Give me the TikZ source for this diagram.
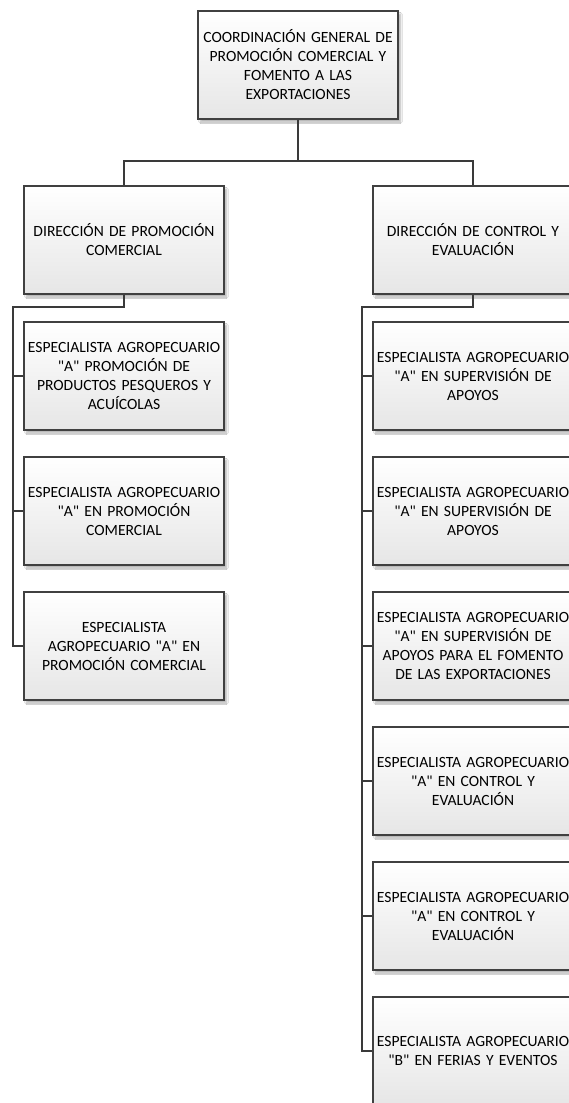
\documentclass[tikz,border=0pt]{standalone}
\usepackage{fontspec}
% Carlito without the TeX input mapping, so " stays a straight quote
\newfontfamily\calfont{Carlito}
\usetikzlibrary{shadows.blur}
\definecolor{edgegray}{RGB}{64,64,64}
\definecolor{linkgray}{RGB}{58,58,58}
\definecolor{fillbottom}{RGB}{230,230,230}
\tikzset{
  orgbox/.style={draw=edgegray, line width=1.5pt,
    top color=white, bottom color=fillbottom,
    minimum width=200pt, minimum height=108pt,
    text width=196pt, align=center, inner sep=2pt,
    font=\calfont\fontsize{15.6}{19}\selectfont,
    blur shadow={shadow xshift=2.5pt, shadow yshift=-3pt, shadow opacity=30, shadow blur steps=6}},
  conn/.style={draw=linkgray, line width=2.8pt}
}
\begin{document}
\begin{tikzpicture}[x=1pt, y=-1pt]
\useasboundingbox (0,0) rectangle (569,1103);
\clip (0,0) rectangle (569,1103);
\fill[white] (0,0) rectangle (569,1103);

% head of the unit
\node[orgbox] (top) at (298,65) {COORDINACIÓN GENERAL DE\\PROMOCIÓN COMERCIAL Y\\FOMENTO A LAS\\EXPORTACIONES};

% directorates
\node[orgbox] (ldir) at (124,240) {DIRECCIÓN DE PROMOCIÓN\\COMERCIAL};
\node[orgbox] (rdir) at (473,240) {DIRECCIÓN DE CONTROL Y\\EVALUACIÓN};

% specialists under Promoción Comercial
\node[orgbox] (l1) at (124,376) {ESPECIALISTA AGROPECUARIO\\"A" PROMOCIÓN DE\\PRODUCTOS PESQUEROS Y\\ACUÍCOLAS};
\node[orgbox] (l2) at (124,511) {ESPECIALISTA AGROPECUARIO\\"A" EN PROMOCIÓN\\COMERCIAL};
\node[orgbox] (l3) at (124,646) {ESPECIALISTA\\AGROPECUARIO "A" EN\\PROMOCIÓN COMERCIAL};

% specialists under Control y Evaluación
\node[orgbox] (r1) at (473,376) {ESPECIALISTA AGROPECUARIO\\"A" EN SUPERVISIÓN DE\\APOYOS};
\node[orgbox] (r2) at (473,511) {ESPECIALISTA AGROPECUARIO\\"A" EN SUPERVISIÓN DE\\APOYOS};
\node[orgbox] (r3) at (473,646) {ESPECIALISTA AGROPECUARIO\\"A" EN SUPERVISIÓN DE\\APOYOS PARA EL FOMENTO\\DE LAS EXPORTACIONES};
\node[orgbox] (r4) at (473,781) {ESPECIALISTA AGROPECUARIO\\"A" EN CONTROL Y\\EVALUACIÓN};
\node[orgbox] (r5) at (473,916) {ESPECIALISTA AGROPECUARIO\\"A" EN CONTROL Y\\EVALUACIÓN};
\node[orgbox] (r6) at (473,1051) {ESPECIALISTA AGROPECUARIO\\"B" EN FERIAS Y EVENTOS};

% junction points of the connector lines
\coordinate (bus) at (298,161);
\coordinate (lj) at (13,307);
\coordinate (rj) at (362,307);

% head to directorates
\draw[conn] (top.south) -- (bus);
\draw[conn] (ldir.north) |- (bus) -| (rdir.north);

% left branch
\draw[conn] (ldir.south) |- (lj) |- (l3.west);
\draw[conn] (lj |- l1.west) -- (l1.west);
\draw[conn] (lj |- l2.west) -- (l2.west);

% right branch
\draw[conn] (rdir.south) |- (rj) |- (r6.west);
\draw[conn] (rj |- r1.west) -- (r1.west);
\draw[conn] (rj |- r2.west) -- (r2.west);
\draw[conn] (rj |- r3.west) -- (r3.west);
\draw[conn] (rj |- r4.west) -- (r4.west);
\draw[conn] (rj |- r5.west) -- (r5.west);
\end{tikzpicture}
\end{document}
